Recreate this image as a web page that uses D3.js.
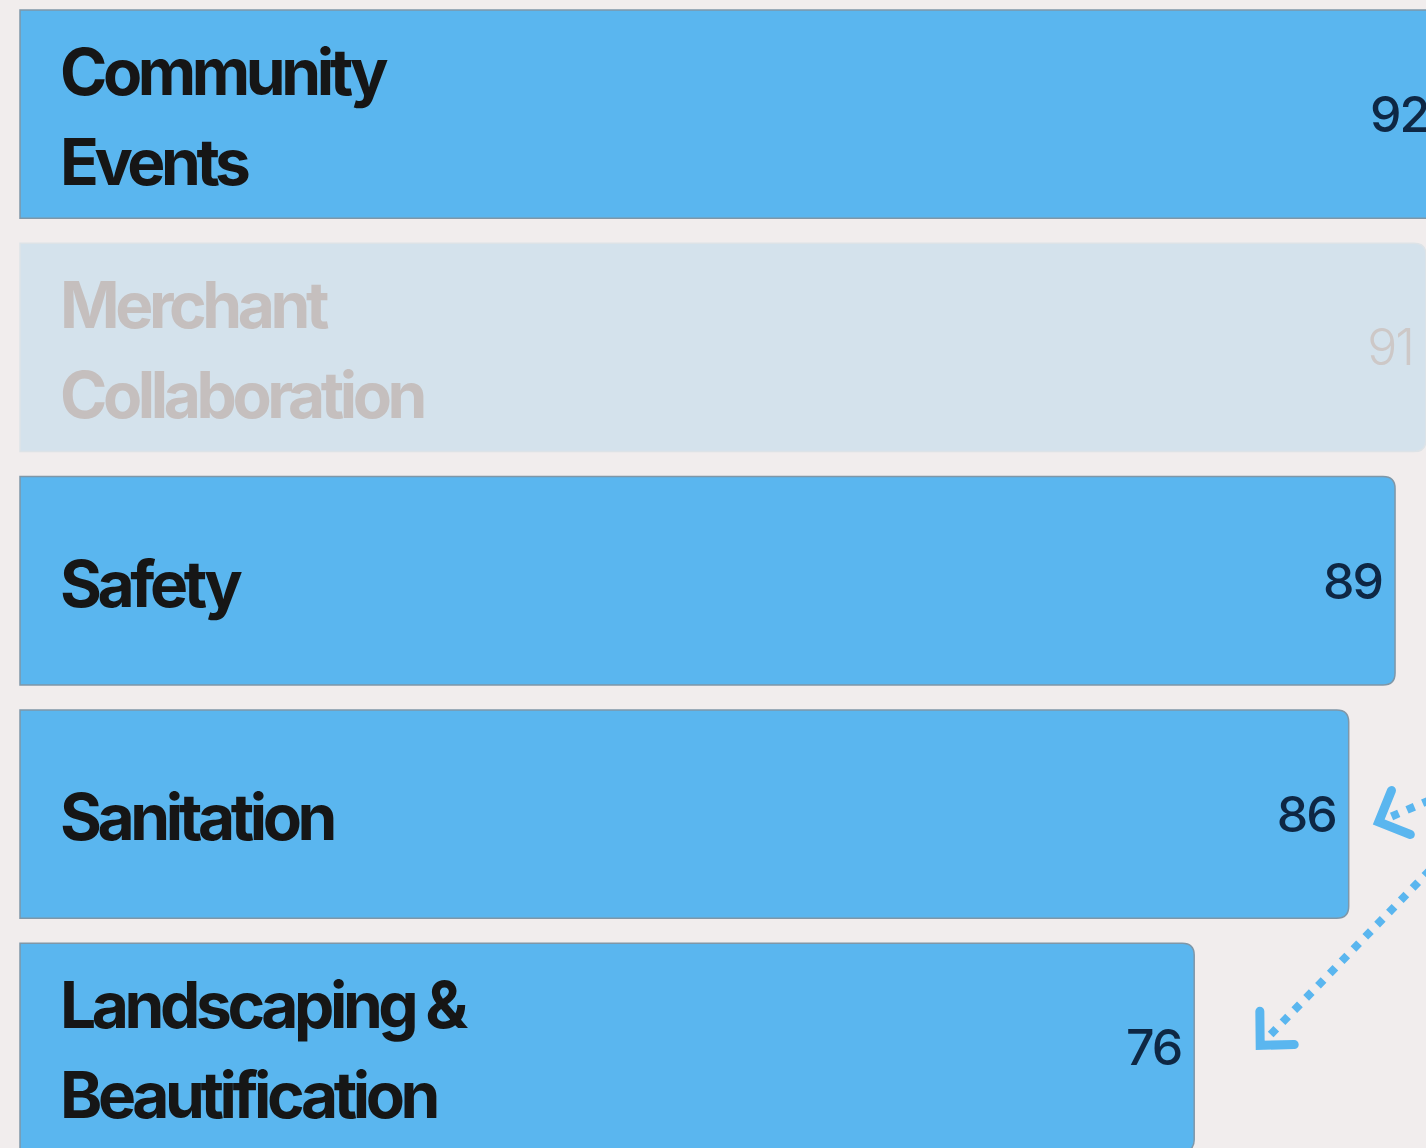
<!DOCTYPE html>
<html>
<head>
<meta charset="utf-8">
<script src="https://cdn.jsdelivr.net/npm/d3@7"></script>
<style>
  html, body { margin: 0; padding: 0; background: #f1eded; overflow: hidden; }
  svg { display: block; }
</style>
</head>
<body>
<svg id="chart"></svg>
<script>
// data
var categories = ["Community Events", "Merchant Collaboration", "Safety", "Sanitation", "Landscaping & Beautification"];
var labelLines = [["Community", "Events"], ["Merchant", "Collaboration"], ["Safety"], ["Sanitation"], ["Landscaping &", "Beautification"]];
var scores = [92, 91, 89, 86, 76];
var faded = ["Merchant Collaboration"];
var arrowTargets = ["Sanitation", "Landscaping & Beautification"];

var pageWidth = 1426;
var pageHeight = 1148;
var left = 20;
var radius = 12;

var svg = d3.select("#chart")
  .attr("width", pageWidth)
  .attr("height", pageHeight);

var xScale = d3.scaleLinear()
  .domain([0, 100])
  .range([left, left + 1545]);

var yScale = d3.scaleBand()
  .domain(categories)
  .range([10, 1151.5])
  .paddingInner(0.107)
  .paddingOuter(0);

var rows = categories.map(function(c, i) {
  return { name: c, lines: labelLines[i], value: scores[i], faded: faded.indexOf(c) >= 0 };
});

// bar with square left side, rounded right side
function barPath(d) {
  var x0 = xScale(0), x1 = xScale(d.value);
  var y0 = yScale(d.name), y1 = y0 + yScale.bandwidth();
  var r = radius;
  return "M" + x0 + "," + y0 +
    "H" + (x1 - r) +
    "Q" + x1 + "," + y0 + " " + x1 + "," + (y0 + r) +
    "V" + (y1 - r) +
    "Q" + x1 + "," + y1 + " " + (x1 - r) + "," + y1 +
    "H" + x0 + "Z";
}

var bars = svg.append("g").attr("class", "bars")
  .selectAll("g")
  .data(rows)
  .enter().append("g");

bars.append("path")
  .attr("d", barPath)
  .attr("fill", function(d) { return d.faded ? "#d4e2ec" : "#5ab6ef"; })
  .attr("stroke", function(d) { return d.faded ? "#dde3e7" : "#7f97a8"; })
  .attr("stroke-width", 1.5);

// category labels
bars.append("text")
  .attr("x", xScale(0) + 40)
  .attr("font-family", "Inter, 'Liberation Sans', sans-serif")
  .attr("font-weight", 700)
  .attr("font-size", 64)
  .attr("letter-spacing", -4.4)
  .attr("fill", function(d) { return d.faded ? "#c5bfbe" : "#161616"; })
  .each(function(d) {
    var cy = yScale(d.name) + yScale.bandwidth() / 2;
    var t = d3.select(this);
    if (d.lines.length === 1) {
      t.append("tspan").attr("x", xScale(0) + 40).attr("y", cy + 26).text(d.lines[0]);
    } else {
      d.lines.forEach(function(line, j) {
        t.append("tspan").attr("x", xScale(0) + 40).attr("y", cy - 19 + j * 90).text(line);
      });
    }
  });

// value labels
bars.append("text")
  .attr("x", function(d) { return xScale(d.value) - 13; })
  .attr("y", function(d) { return yScale(d.name) + yScale.bandwidth() / 2 + 18; })
  .attr("text-anchor", "end")
  .attr("font-family", "Inter, 'Liberation Sans', sans-serif")
  .attr("font-weight", function(d) { return d.faded ? 300 : 500; })
  .attr("font-size", 50)
  .attr("letter-spacing", -2)
  .attr("fill", function(d) { return d.faded ? "#cdc8c7" : "#0e2744"; })
  .text(function(d) { return d.value; });

// dotted annotation arrows pointing at bar ends
var arrowColor = "#5ab6ef";
var arrows = [
  { target: arrowTargets[0], tip: [30, 8] },
  { target: arrowTargets[1], tip: [66, -2] }
];

var arrowG = svg.append("g").attr("class", "arrows");
arrows.forEach(function(a, i) {
  var row = rows[categories.indexOf(a.target)];
  var cy = yScale(row.name) + yScale.bandwidth() / 2;
  var tx = xScale(row.value) + a.tip[0];
  var ty = cy + a.tip[1];
  var sx = pageWidth + 4;
  var sy = i === 0 ? cy - 14 : yScale(categories[3]) + yScale.bandwidth() / 2 + 56;
  var ang = Math.atan2(sy - ty, sx - tx);
  var len = 34;
  var spread = 0.78;
  arrowG.append("line")
    .attr("x1", sx).attr("y1", sy)
    .attr("x2", tx + Math.cos(ang) * 14).attr("y2", ty + Math.sin(ang) * 14)
    .attr("stroke", arrowColor)
    .attr("stroke-width", 8)
    .attr("stroke-dasharray", "8,9");
  arrowG.append("path")
    .attr("d", "M" + (tx + Math.cos(ang - spread) * len) + "," + (ty + Math.sin(ang - spread) * len) +
      "L" + tx + "," + ty +
      "L" + (tx + Math.cos(ang + spread) * len) + "," + (ty + Math.sin(ang + spread) * len))
    .attr("fill", "none")
    .attr("stroke", arrowColor)
    .attr("stroke-width", 9)
    .attr("stroke-linecap", "round")
    .attr("stroke-linejoin", "miter");
});
</script>
</body>
</html>
